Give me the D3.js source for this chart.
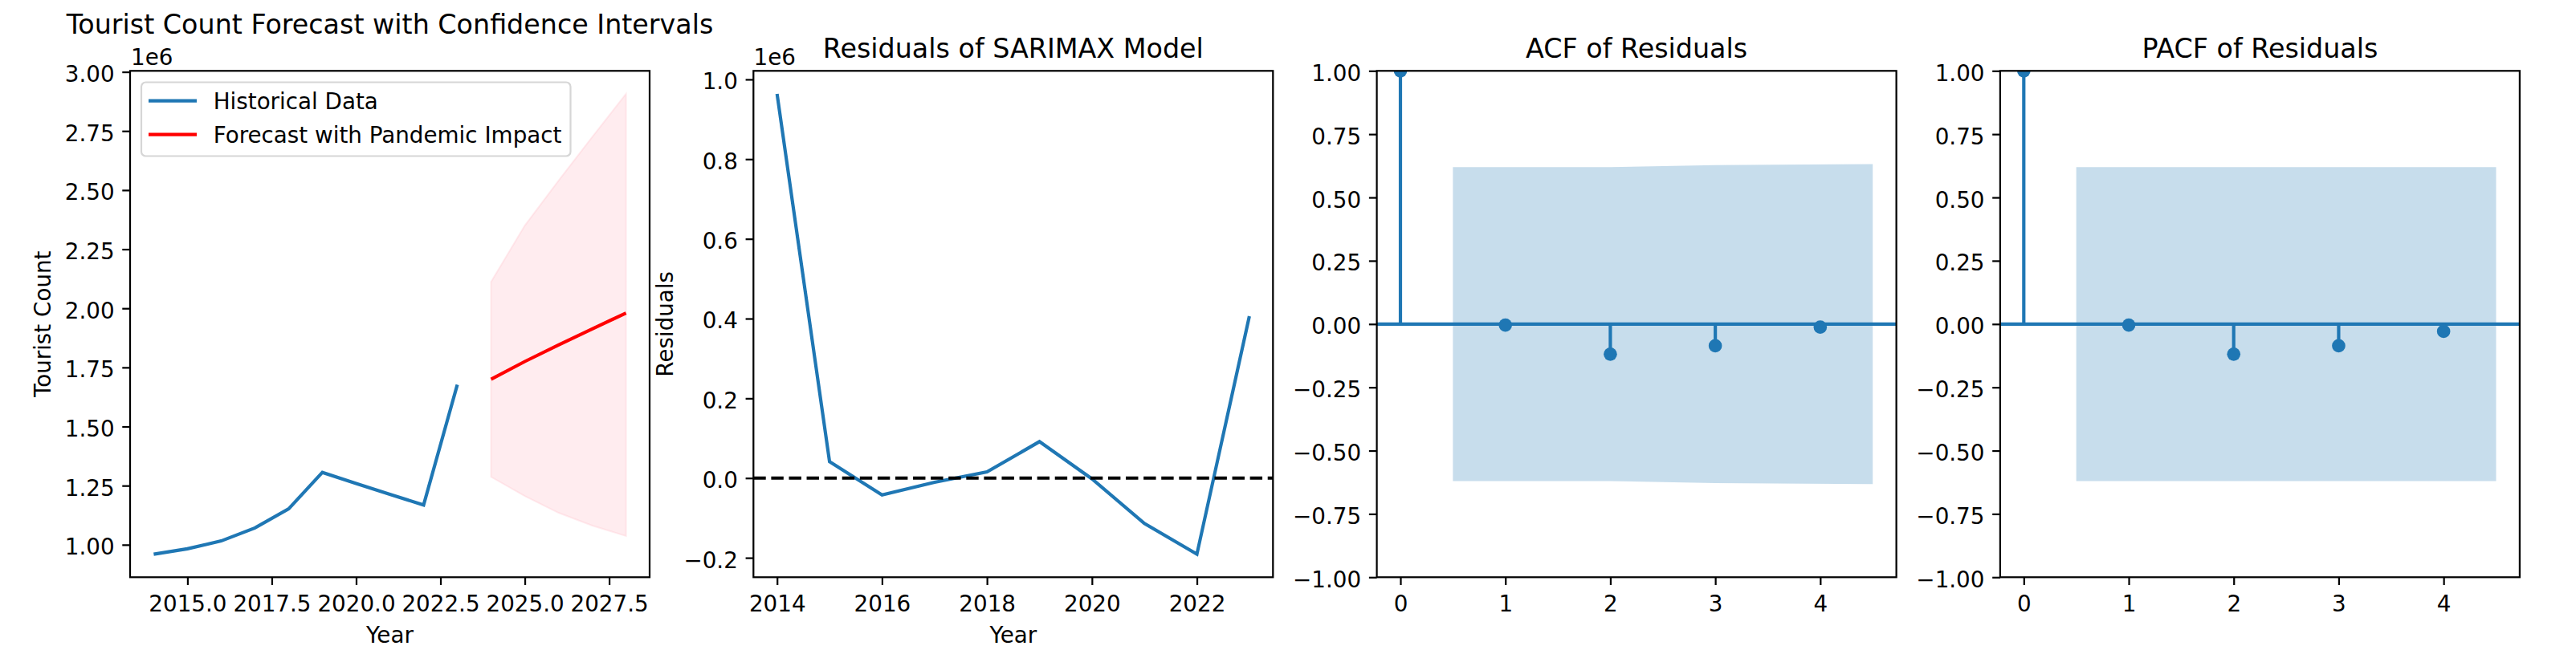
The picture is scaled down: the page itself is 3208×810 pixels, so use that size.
<!DOCTYPE html>
<html>
<head>
<meta charset="utf-8">
<script src="https://cdn.jsdelivr.net/npm/d3@7/dist/d3.min.js"></script>
<style>
  html, body { margin: 0; padding: 0; background: #ffffff; }
  svg { display: block; }
  text { font-family: "DejaVu Sans", sans-serif; fill: #000; }
</style>
</head>
<body>
<script>
// ---------------- DATA ----------------
const histYears  = [2014, 2015, 2016, 2017, 2018, 2019, 2020, 2021, 2022, 2023];
const histCounts = [960000, 983000, 1016000, 1071000, 1152000, 1306000, 1259000, 1213000, 1168000, 1677000];

const fcYears = [2024, 2025, 2026, 2027, 2028];
const fcMean  = [1700000, 1775000, 1845000, 1913000, 1980000];
const fcLower = [1287000, 1206000, 1135000, 1081000, 1037000];
const fcUpper = [2112000, 2350000, 2540000, 2725000, 2907000];

const residYears  = [2014, 2015, 2016, 2017, 2018, 2019, 2020, 2021, 2022, 2023];
const residValues = [963700, 41000, -42500, -10500, 15300, 91400, -2000, -114000, -191000, 406000];

const lags       = [0, 1, 2, 3, 4];
const acfValues  = [1.0, -0.004, -0.119, -0.086, -0.012];
const acfConf    = [0.620, 0.620, 0.628, 0.632];   // for lags 1..4
const pacfValues = [1.0, -0.004, -0.119, -0.086, -0.029];
const pacfConf   = [0.620, 0.620, 0.620, 0.620];   // for lags 1..4

const p1XTicks = [2015, 2017.5, 2020, 2022.5, 2025, 2027.5];
const p1YTicks = [1.00, 1.25, 1.50, 1.75, 2.00, 2.25, 2.50, 2.75, 3.00];
const p2XTicks = [2014, 2016, 2018, 2020, 2022];
const p2YTicks = [-0.2, 0.0, 0.2, 0.4, 0.6, 0.8, 1.0];
const acfXTicks = [0, 1, 2, 3, 4];
const acfYTicks = [-1.00, -0.75, -0.50, -0.25, 0.00, 0.25, 0.50, 0.75, 1.00];

const titles = ["Tourist Count Forecast with Confidence Intervals", "Residuals of SARIMAX Model", "ACF of Residuals", "PACF of Residuals"];
const legendLabels = ["Historical Data", "Forecast with Pandemic Impact"];

// ---------------- LAYOUT ----------------
const W = 3208, H = 810;
const DPI = 200 / 72;
const FS_TICK = 10 * DPI, FS_TITLE = 12 * DPI;
const LW = 1.5 * DPI, SPINE = 0.8 * DPI, TICKLEN = 3.5 * DPI, TICKPAD = 3.5 * DPI;
const BLUE = "#1f77b4";
const TOP = 88.3, PH = 631, PW = 647;
const LEFTS = [162, 938.3, 1714.6, 2490.9];

const minus = s => s.replace("-", "\u2212");

const svg = d3.select("body").append("svg").attr("width", W).attr("height", H);
const defs = svg.append("defs");

function padDomain(lo, hi) { const r = hi - lo; return [lo - 0.05 * r, hi + 0.05 * r]; }

function makePanel(i, x, y, xTicks, xFmt, yTicks, yFmt) {
  const g = svg.append("g").attr("transform", `translate(${LEFTS[i]},${TOP})`);
  defs.append("clipPath").attr("id", "clip" + i).append("rect").attr("width", PW).attr("height", PH);
  const plot = g.append("g").attr("clip-path", `url(#clip${i})`);
  const ax = g.append("g");
  const xa = ax.append("g").attr("transform", `translate(0,${PH})`)
    .call(d3.axisBottom(x).tickValues(xTicks).tickFormat(xFmt).tickSize(TICKLEN).tickPadding(TICKPAD).tickSizeOuter(0));
  const ya = ax.append("g")
    .call(d3.axisLeft(y).tickValues(yTicks).tickFormat(yFmt).tickSize(TICKLEN).tickPadding(TICKPAD).tickSizeOuter(0));
  [xa, ya].forEach(a => {
    a.select(".domain").remove();
    a.selectAll(".tick line").attr("stroke", "#000").attr("stroke-width", SPINE);
    a.selectAll(".tick text").attr("font-size", FS_TICK).attr("font-family", "DejaVu Sans").attr("fill", "#000");
  });
  xa.selectAll(".tick text").attr("dy", "0.85em");
  ya.selectAll(".tick text").attr("dy", "0.43em");
  return { g, plot, ax };
}

function frame(p) {
  p.ax.append("rect").attr("width", PW).attr("height", PH)
    .attr("fill", "none").attr("stroke", "#000").attr("stroke-width", SPINE);
}

function title(i, txt, baseline) {
  svg.append("text").attr("x", LEFTS[i] + PW / 2).attr("y", baseline)
    .attr("text-anchor", "middle").attr("font-size", FS_TITLE).text(txt);
}

// ---------------- PANEL 1 ----------------
{
  const x = d3.scaleLinear().domain(padDomain(2014, 2028)).range([0, PW]);
  const yd = padDomain(d3.min(histCounts.concat(fcLower)), d3.max(fcUpper));
  const y = d3.scaleLinear().domain(yd).range([PH, 0]);
  const p = makePanel(0, x, y, p1XTicks, d => d3.format(".1f")(d), p1YTicks.map(v => v * 1e6), d => d3.format(".2f")(d / 1e6));
  const band = fcYears.map((yr, k) => ({ x: yr, lo: fcLower[k], hi: fcUpper[k] }));
  p.plot.append("path").datum(band)
    .attr("d", d3.area().x(d => x(d.x)).y0(d => y(d.lo)).y1(d => y(d.hi)))
    .attr("fill", "pink").attr("fill-opacity", 0.3)
    .attr("stroke", "pink").attr("stroke-opacity", 0.3).attr("stroke-width", 2);
  p.plot.append("path").datum(histYears.map((yr, k) => [yr, histCounts[k]]))
    .attr("d", d3.line().x(d => x(d[0])).y(d => y(d[1])))
    .attr("fill", "none").attr("stroke", BLUE).attr("stroke-width", LW);
  p.plot.append("path").datum(fcYears.map((yr, k) => [yr, fcMean[k]]))
    .attr("d", d3.line().x(d => x(d[0])).y(d => y(d[1])))
    .attr("fill", "none").attr("stroke", "red").attr("stroke-width", LW);
  frame(p);
  // legend
  const lg = p.g.append("g").attr("transform", `translate(${176 - LEFTS[0]},${102.5 - TOP})`);
  lg.append("rect").attr("width", 534.5).attr("height", 92).attr("rx", 5.5).attr("ry", 5.5)
    .attr("fill", "#fff").attr("fill-opacity", 0.8).attr("stroke", "#d6d6d6").attr("stroke-width", SPINE);
  const lcol = [BLUE, "red"];
  legendLabels.forEach((lab, k) => {
    const cy = 23.2 + k * 42;
    lg.append("line").attr("x1", 9).attr("x2", 69).attr("y1", cy).attr("y2", cy)
      .attr("stroke", lcol[k]).attr("stroke-width", LW);
    lg.append("text").attr("x", 89.7).attr("y", cy + 10.2).attr("font-size", FS_TICK).text(lab);
  });
  // offset text and labels
  svg.append("text").attr("x", 163).attr("y", 81).attr("font-size", FS_TICK).text("1e6");
  svg.append("text").attr("transform", `translate(63,${TOP + PH / 2}) rotate(-90)`)
    .attr("text-anchor", "middle").attr("font-size", FS_TICK).text("Tourist Count");
  svg.append("text").attr("x", LEFTS[0] + PW / 2).attr("y", 801)
    .attr("text-anchor", "middle").attr("font-size", FS_TICK).text("Year");
  title(0, titles[0], 41.7);
}

// ---------------- PANEL 2 ----------------
{
  const x = d3.scaleLinear().domain(padDomain(d3.min(residYears), d3.max(residYears))).range([0, PW]);
  const y = d3.scaleLinear().domain(padDomain(d3.min(residValues), d3.max(residValues))).range([PH, 0]);
  const p = makePanel(1, x, y, p2XTicks, d => String(d), p2YTicks.map(v => v * 1e6), d => minus(d3.format(".1f")(d / 1e6)));
  p.plot.append("path").datum(residYears.map((yr, k) => [yr, residValues[k]]))
    .attr("d", d3.line().x(d => x(d[0])).y(d => y(d[1])))
    .attr("fill", "none").attr("stroke", BLUE).attr("stroke-width", LW);
  p.plot.append("line").attr("x1", 0).attr("x2", PW).attr("y1", y(0)).attr("y2", y(0))
    .attr("stroke", "#000").attr("stroke-width", LW)
    .attr("stroke-dasharray", `${3.7 * LW},${1.6 * LW}`);
  frame(p);
  svg.append("text").attr("x", 938.6).attr("y", 81).attr("font-size", FS_TICK).text("1e6");
  svg.append("text").attr("transform", `translate(837.5,${TOP + PH / 2}) rotate(-90)`)
    .attr("text-anchor", "middle").attr("font-size", FS_TICK).text("Residuals");
  svg.append("text").attr("x", LEFTS[1] + PW / 2).attr("y", 801)
    .attr("text-anchor", "middle").attr("font-size", FS_TICK).text("Year");
  title(1, titles[1], 72.3);
}

// ---------------- PANELS 3 & 4 ----------------
function corrPanel(i, vals, conf) {
  const x = d3.scaleLinear().domain(padDomain(0, 4.5)).range([0, PW]);
  const y = d3.scaleLinear().domain([-1, 1]).range([PH, 0]);
  const p = makePanel(i, x, y, acfXTicks, d => String(d), acfYTicks, d => minus(d3.format(".2f")(d)));
  const bx = lags.slice(1).map((l, k, arr) => k === 0 ? l - 0.5 : (k === arr.length - 1 ? l + 0.5 : l));
  const band = bx.map((bxv, k) => ({ x: bxv, c: conf[k] }));
  p.plot.append("path").datum(band)
    .attr("d", d3.area().x(d => x(d.x)).y0(d => y(-d.c)).y1(d => y(d.c)))
    .attr("fill", BLUE).attr("fill-opacity", 0.25);
  p.plot.append("line").attr("x1", 0).attr("x2", PW).attr("y1", y(0)).attr("y2", y(0))
    .attr("stroke", BLUE).attr("stroke-width", LW);
  p.plot.selectAll("line.stem").data(lags).enter().append("line").attr("class", "stem")
    .attr("x1", d => x(d)).attr("x2", d => x(d)).attr("y1", y(0)).attr("y2", (d, k) => y(vals[k]))
    .attr("stroke", BLUE).attr("stroke-width", LW);
  p.plot.selectAll("circle").data(lags).enter().append("circle")
    .attr("cx", d => x(d)).attr("cy", (d, k) => y(vals[k])).attr("r", 3 * DPI)
    .attr("fill", BLUE);
  frame(p);
  title(i, titles[i], 72.3);
}
corrPanel(2, acfValues, acfConf);
corrPanel(3, pacfValues, pacfConf);
</script>
</body>
</html>
